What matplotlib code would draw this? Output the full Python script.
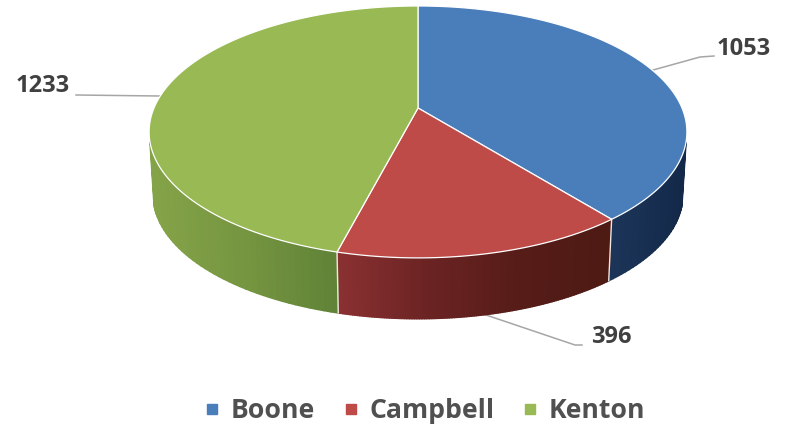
import numpy as np
import matplotlib
matplotlib.use('Agg')
import matplotlib.pyplot as plt
from matplotlib.collections import PolyCollection
from matplotlib.colors import to_rgb
from matplotlib.lines import Line2D

categories = ['Boone', 'Campbell', 'Kenton']
values = [1053, 396, 1233]

top_colors = ['#4a7ebb', '#be4b48', '#98b954']
# wall shading, screen x -> colour
wall_stops = [
    ([607, 683], ['#1c3659', '#14294a']),
    ([338, 430, 520, 607], ['#8a3032', '#6a2322', '#561c18', '#4e1a14']),
    ([155, 250, 338], ['#84a348', '#749440', '#5f8237']),
]

# pie geometry in pixels, top face has a bit of perspective
cx, cy = 418, 108
A, B, c = 264, 121.4, 0.19
base_scale, base_cy = 0.985, 171

def top_xy(theta):
    u, v = np.sin(theta), np.cos(theta)
    d = 1 + c * v
    return cx + A * u / d, cy - B * v / d

def base_xy(theta):
    u, v = np.sin(theta), np.cos(theta)
    d = 1 + c * v
    return cx + base_scale * A * u / d, base_cy - base_scale * B * v / d

fig = plt.figure(figsize=(7.86, 4.24), dpi=100)
ax = fig.add_axes([0, 0, 1, 1])
ax.set_xlim(0, 786)
ax.set_ylim(424, 0)
ax.axis('off')

edges = np.concatenate([[0], np.cumsum(values)]) / np.sum(values) * 2 * np.pi

# walls first, top faces cover the rest. only the front part is needed
for i in range(len(values)):
    th = np.linspace(edges[i], edges[i + 1], 120)
    tx, ty = top_xy(th)
    bx, by = base_xy(th)
    stops_x, stops_c = wall_stops[i]
    rgb = np.array([to_rgb(s) for s in stops_c])
    polys, cols = [], []
    for j in range(len(th) - 1):
        if ty[j] < 145 and ty[j + 1] < 145:
            continue
        polys.append([(tx[j], ty[j]), (tx[j + 1], ty[j + 1]), (bx[j + 1], by[j + 1]), (bx[j], by[j])])
        xm = (tx[j] + tx[j + 1]) / 2
        cols.append([np.interp(xm, stops_x, rgb[:, k]) for k in range(3)])
    ax.add_collection(PolyCollection(polys, facecolors=cols, edgecolors=cols, linewidths=1.2, zorder=1))

# white seams on the front wall
for e in edges[1:3]:
    tx, ty = top_xy(e)
    bx, by = base_xy(e)
    ax.plot([tx, bx], [ty, by], color='#f4e6e2', lw=1.0, zorder=2)

for i in range(len(values)):
    th = np.linspace(edges[i], edges[i + 1], 200)
    tx, ty = top_xy(th)
    ax.fill(np.r_[cx, tx], np.r_[cy, ty], facecolor=top_colors[i], edgecolor='white', lw=0.9, zorder=3)

# leader lines start from slice middles
mids = (edges[:-1] + edges[1:]) / 2
x0, y0 = top_xy(mids[0])
ax.plot([x0, 700, 714], [y0, 57, 56], color='#a6a6a6', lw=1.1, zorder=0)
x1, y1 = base_xy(mids[1])
ax.plot([x1, 575, 582], [y1, 345, 345], color='#a6a6a6', lw=1.1, zorder=0)
x2, y2 = top_xy(mids[2])
ax.plot([76, x2], [95, y2 + 3], color='#a6a6a6', lw=1.1, zorder=0)

font = 'Open Sans'
txt = '#404040'
ax.text(744, 49, str(values[0]), ha='center', va='center', fontsize=17, family=font, weight='bold', color=txt)
ax.text(611, 337, str(values[1]), ha='center', va='center', fontsize=17, family=font, weight='bold', color=txt)
ax.text(43, 86, str(values[2]), ha='center', va='center', fontsize=17, family=font, weight='bold', color=txt)

handles = [Line2D([], [], ls='none', marker='s', ms=7.5, color=col) for col in top_colors]
ax.legend(handles, categories, ncol=3, frameon=False, loc='center', bbox_to_anchor=(426 / 786, 1 - 411 / 424),
          prop={'family': font, 'weight': 'bold', 'size': 19.2}, labelcolor='#505050',
          handlelength=0.4, handletextpad=0.5, columnspacing=1.15, borderpad=0, borderaxespad=0)

fig.savefig('out.png', dpi=100)
